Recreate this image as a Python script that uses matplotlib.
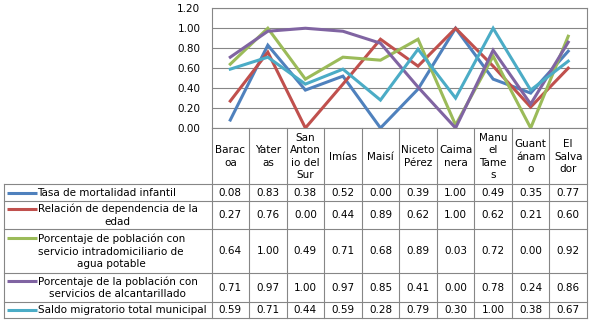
import numpy as np
from matplotlib import pyplot as plt

municipios = ["Barac\noa", "Yater\nas", "San\nAnton\nio del\nSur", "Imías", "Maisí",
              "Niceto\nPérez", "Caima\nnera", "Manu\nel\nTame\ns", "Guant\nánam\no",
              "El\nSalva\ndor"]

series_labels = [
    "Tasa de mortalidad infantil",
    "Relación de dependencia de la\nedad",
    "Porcentaje de población con\nservicio intradomiciliario de\nagua potable",
    "Porcentaje de la población con\nservicios de alcantarillado",
    "Saldo migratorio total municipal",
]

mortalidad = [0.08, 0.83, 0.38, 0.52, 0.00, 0.39, 1.00, 0.49, 0.35, 0.77]
dependencia = [0.27, 0.76, 0.00, 0.44, 0.89, 0.62, 1.00, 0.62, 0.21, 0.60]
agua = [0.64, 1.00, 0.49, 0.71, 0.68, 0.89, 0.03, 0.72, 0.00, 0.92]
alcantarillado = [0.71, 0.97, 1.00, 0.97, 0.85, 0.41, 0.00, 0.78, 0.24, 0.86]
migratorio = [0.59, 0.71, 0.44, 0.59, 0.28, 0.79, 0.30, 1.00, 0.38, 0.67]

yticks = [0.0, 0.2, 0.4, 0.6, 0.8, 1.0, 1.2]

series = [mortalidad, dependencia, agua, alcantarillado, migratorio]
colors = ["#4F81BD", "#C0504D", "#9BBB59", "#8064A2", "#4BACC6"]
grid_color = "#868686"
fs = 7.5
ls = 1.33

W, H = 593, 327
fig = plt.figure(figsize=(W / 100, H / 100), dpi=100)

# layout in pixels
x_left, x_right = 211.5, 587
y_top, y_zero = 8.3, 128
col_w = (x_right - x_left) / len(municipios)
row_lines = [184, 201, 229, 273, 301.5, 318]
line_h = 13

ax = fig.add_axes([x_left / W, 1 - y_zero / H, (x_right - x_left) / W, (y_zero - y_top) / H])
x = np.arange(len(municipios))
for vals, c in zip(series, colors):
    ax.plot(x, vals, color=c, lw=2.2, solid_joinstyle="miter", zorder=3)
ax.set_xlim(-0.5, len(municipios) - 0.5)
ax.set_ylim(0, 1.2)
ax.set_yticks(yticks)
ax.set_yticklabels(["%.2f" % v for v in yticks], fontsize=fs)
ax.set_xticks([])
ax.tick_params(axis="y", length=0, pad=8)
ax.grid(axis="y", color=grid_color, lw=0.8)
for s in ax.spines.values():
    s.set_color(grid_color)
    s.set_linewidth(0.8)

# data table drawn in pixel coordinates
tb = fig.add_axes([0, 0, 1, 1])
tb.set_xlim(0, W)
tb.set_ylim(H, 0)
tb.axis("off")

lk = dict(color=grid_color, lw=0.8)
for i in range(len(municipios) + 1):
    xb = x_left + i * col_w
    tb.plot([xb, xb], [y_zero, row_lines[-1]], **lk)
for yl in row_lines:
    tb.plot([4, x_right], [yl, yl], **lk)
tb.plot([4, 4], [row_lines[0], row_lines[-1]], **lk)

for i, name in enumerate(municipios):
    tb.text(x_left + (i + 0.5) * col_w, (y_zero + row_lines[0]) / 2 + 0.5, name,
            ha="center", va="center", fontsize=fs, linespacing=ls)

for r, (lab, vals, c) in enumerate(zip(series_labels, series, colors)):
    yc = (row_lines[r] + row_lines[r + 1]) / 2
    n = lab.count("\n") + 1
    y_first = yc - (n - 1) / 2 * line_h
    tb.plot([6.7, 36.7], [y_first, y_first], color=c, lw=2.2, solid_capstyle="butt")
    tb.text(37.5, yc + 0.5, lab, ha="left", va="center", fontsize=fs,
            multialignment="center", linespacing=ls)
    for i, v in enumerate(vals):
        tb.text(x_left + (i + 0.5) * col_w, yc + 0.5, "%.2f" % v, ha="center",
                va="center", fontsize=fs)

plt.savefig("out.png", dpi=100)
